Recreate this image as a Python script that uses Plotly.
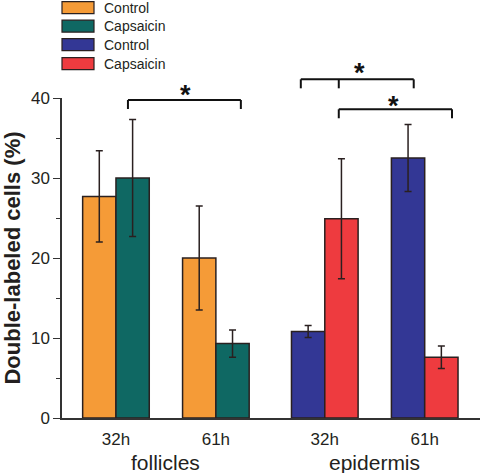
import plotly.graph_objects as go

# ---- data ----
tissues = ["follicles", "epidermis"]
timepoints = ["32h", "61h"]
series_names = ["Control", "Capsaicin", "Control", "Capsaicin"]
follicles_control = [27.7, 20.0]
follicles_control_err = [5.7, 6.5]
follicles_capsaicin = [30.0, 9.3]
follicles_capsaicin_err = [7.3, 1.7]
epidermis_control = [10.8, 32.5]
epidermis_control_err = [0.75, 4.2]
epidermis_capsaicin = [24.9, 7.6]
epidermis_capsaicin_err = [7.5, 1.4]
y_ticks = [0, 10, 20, 30, 40]
y_minor = [5, 15, 25, 35]

colors = ["#F59B37", "#0F6863", "#333795", "#EE3B3F"]
edge = "#2a2020"
txt = "#231F20"
font_family = "Liberation Sans, Arial, sans-serif"

PLOT_TOP = 98      # page px of y=40
PLOT_BOT = 418.5   # page px of y=0
PLOT_H = PLOT_BOT - PLOT_TOP


def pair_center(ti, tp):
    return ti * 6 + tp * 3 + 0.5 + (0.27 if ti == 1 else 0.0)


def py2paper(py):
    return (PLOT_BOT - py) / PLOT_H


values = [follicles_control, follicles_capsaicin, epidermis_control, epidermis_capsaicin]
errors = [follicles_control_err, follicles_capsaicin_err, epidermis_control_err, epidermis_capsaicin_err]

fig = go.Figure()
for k in range(4):
    ti = k // 2
    side = -0.5 if k % 2 == 0 else 0.5
    xs = [pair_center(ti, tp) + side for tp in range(len(timepoints))]
    fig.add_trace(go.Bar(
        x=xs, y=values[k], width=1.0, name=series_names[k],
        marker=dict(color=colors[k], line=dict(color=edge, width=1.5)),
        error_y=dict(type="data", array=errors[k], color=edge, thickness=1.5, width=3.5),
        showlegend=False,
    ))

tick_x = [pair_center(ti, tp) for ti in range(2) for tp in range(2)]
tick_t = [timepoints[tp] for ti in range(2) for tp in range(2)]

W, H = 480, 473
fig.update_layout(
    width=W, height=H,
    margin=dict(l=62, r=0, t=PLOT_TOP, b=H - PLOT_BOT, pad=0),
    paper_bgcolor="white", plot_bgcolor="white",
    font=dict(family=font_family, color=txt),
    barmode="overlay",
    xaxis=dict(range=[-1.12, 11.43], showgrid=False, zeroline=False,
               showline=True, linecolor="#333333", linewidth=1.5,
               tickvals=tick_x, ticktext=tick_t, ticks="outside", ticklen=5,
               tickcolor="rgba(0,0,0,0)", tickfont=dict(size=17, color=txt)),
    yaxis=dict(range=[0, 40], showgrid=False, zeroline=False,
               showline=True, linecolor="#333333", linewidth=1.5,
               tickvals=y_ticks, ticks="outside", ticklen=7, tickwidth=1.2,
               tickcolor="#333333", tickfont=dict(size=17, color=txt),
               minor=dict(tickvals=y_minor, ticks="outside", ticklen=4,
                          tickwidth=1.2, tickcolor="#333333"),
               title=dict(text="<b>Double-labeled cells (%)</b>", standoff=12,
                          font=dict(size=22, color=txt))),
)

# group labels
for ti, name in enumerate(tissues):
    cx = (pair_center(ti, 0) + pair_center(ti, 1)) / 2
    fig.add_annotation(x=cx, y=0, xref="x", yref="paper", text=name,
                       showarrow=False, yanchor="middle", yshift=-44,
                       font=dict(size=21, color=txt))

# significance brackets (x in data units, y in page px -> paper)
def bracket(x0, x1, py, drop=9, mid=None):
    lw = dict(color="#111111", width=2)
    yb = py2paper(py)
    yd = py2paper(py + drop)
    fig.add_shape(type="line", xref="x", yref="paper", x0=x0, x1=x1, y0=yb, y1=yb, line=lw)
    for xx in [x0, x1] + ([mid] if mid is not None else []):
        fig.add_shape(type="line", xref="x", yref="paper", x0=xx, x1=xx, y0=yb, y1=yd, line=lw)

bracket(0.86, 4.25, 100)
bracket(6.05, 9.44, 79.3, mid=7.19)
bracket(7.19, 10.59, 109.3)

stars = [(2.6, 90), (7.8, 68), (8.82, 101)]
for sx, py in stars:
    fig.add_annotation(x=sx, y=py2paper(py), xref="x", yref="paper", text="<b>*</b>",
                       showarrow=False, yanchor="middle", yshift=-5,
                       font=dict(size=27, color="#111111"))

# manual legend
leg_rows = [7.5, 26, 44.5, 63.5]
for k, yc in enumerate(leg_rows):
    fig.add_shape(type="rect", xref="paper", yref="paper", x0=0, x1=32 / 418,
                  y0=py2paper(yc + 6), y1=py2paper(yc - 6),
                  fillcolor=colors[k], line=dict(color=edge, width=1.2))
    fig.add_annotation(x=40 / 418, y=py2paper(yc), xref="paper", yref="paper",
                       text=series_names[k], showarrow=False, xanchor="left", yanchor="middle",
                       font=dict(size=14, color=txt))

fig.write_html("out.html", config={"displayModeBar": False},
               post_script="document.body.style.margin='0px';")
